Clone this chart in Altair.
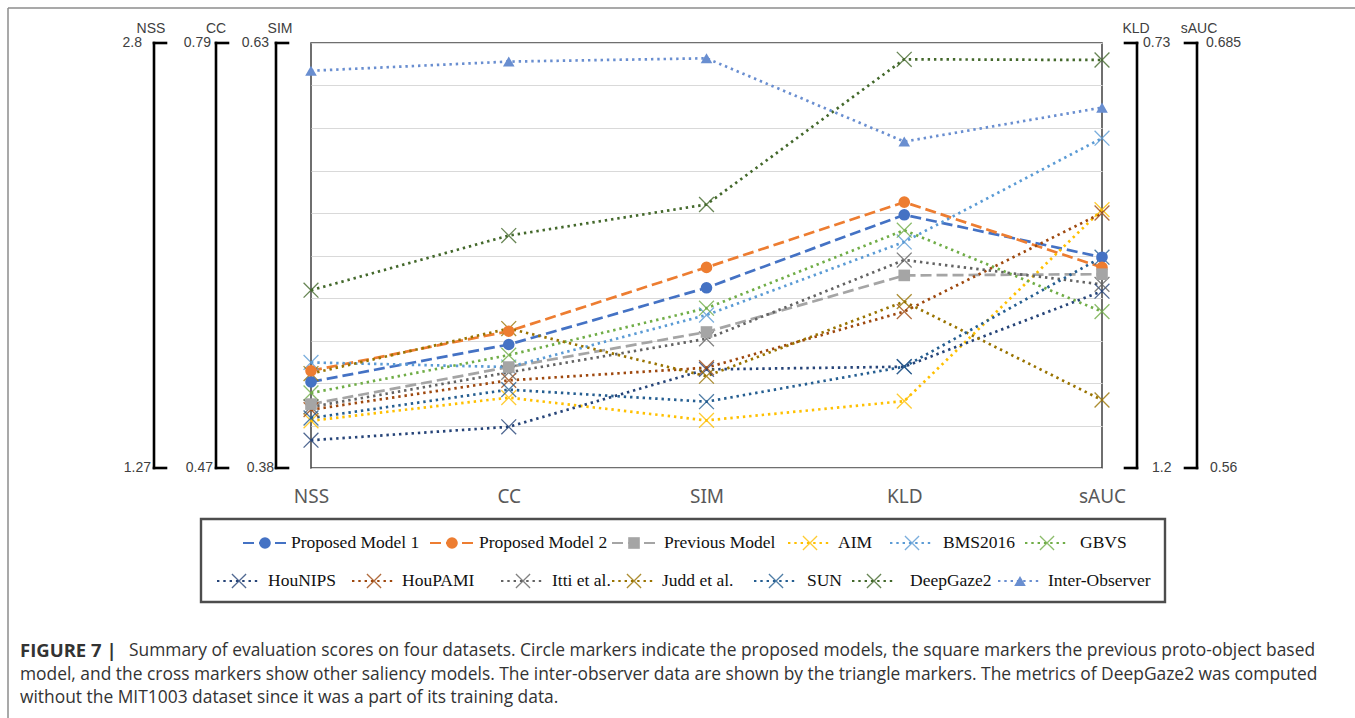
import altair as alt
import pandas as pd

# ---------------- data ----------------
METRICS = ["NSS", "CC", "SIM", "KLD", "sAUC"]
AXIS_TOP = [2.8, 0.79, 0.63, 0.73, 0.685]      # value at the top of each metric's own scale
AXIS_BOTTOM = [1.27, 0.47, 0.38, 1.2, 0.56]    # value at the bottom (KLD runs inverted)
AXIS_TOP_TEXT = ["2.8", "0.79", "0.63", "0.73", "0.685"]
AXIS_BOTTOM_TEXT = ["1.27", "0.47", "0.38", "1.2", "0.56"]

MODELS = ["Proposed Model 1", "Proposed Model 2", "Previous Model", "AIM", "BMS2016", "GBVS",
          "HouNIPS", "HouPAMI", "Itti et al.", "Judd et al.", "SUN", "DeepGaze2", "Inter-Observer"]

NSS_SCORES = [1.58, 1.62, 1.50, 1.44, 1.65, 1.54, 1.37, 1.48, 1.49, 1.61, 1.45, 1.91, 2.70]
CC_SCORES = [0.563, 0.573, 0.546, 0.523, 0.546, 0.555, 0.501, 0.536, 0.542, 0.575, 0.529, 0.645, 0.776]
SIM_SCORES = [0.486, 0.498, 0.460, 0.408, 0.470, 0.474, 0.438, 0.439, 0.456, 0.434, 0.419, 0.535, 0.621]
KLD_SCORES = [0.920, 0.906, 0.987, 1.126, 0.950, 0.937, 1.088, 1.027, 0.970, 1.016, 1.088, 0.748, 0.839]
SAUC_SCORES = [0.622, 0.619, 0.617, 0.636, 0.657, 0.606, 0.612, 0.635, 0.614, 0.580, 0.622, 0.680, 0.666]

CAPTION_BOLD = "FIGURE 7 |"
CAPTION_LINES = [
    "Summary of evaluation scores on four datasets. Circle markers indicate the proposed models, the square markers the previous proto-object based",
    "model, and the cross markers show other saliency models. The inter-observer data are shown by the triangle markers. The metrics of DeepGaze2 was computed",
    "without the MIT1003 dataset since it was a part of its training data.",
]

# ---------------- styles ----------------
COLORS = ["#4472C4", "#ED7D31", "#A5A5A5", "#FFC000", "#5B9BD5", "#70AD47",
          "#264478", "#9E480E", "#636363", "#997300", "#255E91", "#43682B", "#698ED0"]
DASHED, DOTTED = [11, 5], [2.4, 3.9]
DASHES = [DASHED, DASHED, DASHED] + [DOTTED] * 10
FILLED_MODELS = ["Proposed Model 1", "Proposed Model 2", "Previous Model", "Inter-Observer"]
FILLED_SHAPES = ["circle", "circle", "square", "triangle-up"]
FILLED_SIZES = [135, 135, 125, 60]
CROSS_MODELS = [m for m in MODELS if m not in FILLED_MODELS]
X_PATH = "M-1,-1L1,1M-1,1L1,-1"

# ---------------- layout (page pixels) ----------------
PAGE_W, PAGE_H = 1355, 718
X0, Y0 = 311, 43            # top-left corner of the plot frame
W, H = 791, 425             # plot frame size


def px(x):
    return x - X0


def py(y):
    return y - Y0


BRACKET_X = [154, 216, 276, 1137, 1197]
BRACKET_SIDE = ["left", "left", "left", "right", "right"]
TITLE_X = [151, 216, 280, 1136, 1199]
TOP_LABEL_X = [142, 211, 269, 1143, 1206]
BOTTOM_LABEL_X = [151, 213, 274, 1152, 1210]

LEGEND_ROW_Y = [543, 581]
LEGEND_ROW = [0, 0, 0, 0, 0, 0, 1, 1, 1, 1, 1, 1, 1]
LEGEND_MARK_X = [265, 452, 634, 810, 912, 1047, 239, 374, 523, 634, 776, 874, 1020]
LEGEND_TEXT_X = [291, 479, 664, 838, 943, 1080, 268, 402, 552, 662, 807, 910, 1048]

# ---------------- tables ----------------
scores = [NSS_SCORES, CC_SCORES, SIM_SCORES, KLD_SCORES, SAUC_SCORES]
rows = []
for i, model in enumerate(MODELS):
    for j, metric in enumerate(METRICS):
        v = scores[j][i]
        pos = (v - AXIS_BOTTOM[j]) / (AXIS_TOP[j] - AXIS_BOTTOM[j])
        rows.append({"model": model, "metric": metric, "order": j, "value": v, "pos": pos})
df = pd.DataFrame(rows)

legend_df = pd.DataFrame({
    "model": MODELS,
    "mx": [px(x) for x in LEGEND_MARK_X],
    "lx0": [px(x - 22) for x in LEGEND_MARK_X],
    "lx1": [px(x + 22) for x in LEGEND_MARK_X],
    "tx": [px(x) for x in LEGEND_TEXT_X],
    "ly": [py(LEGEND_ROW_Y[r]) for r in LEGEND_ROW],
})

seg = []
for k in range(len(METRICS)):
    bx = BRACKET_X[k]
    tick_end = bx + 12 if BRACKET_SIDE[k] == "left" else bx - 12
    seg.append({"x": px(bx), "x2": px(bx), "y": 0, "y2": H})
    seg.append({"x": px(bx), "x2": px(tick_end), "y": 0, "y2": 0})
    seg.append({"x": px(bx), "x2": px(tick_end), "y": H, "y2": H})
bracket_df = pd.DataFrame(seg)

titles_df = pd.DataFrame({"t": METRICS, "x": [px(x) for x in TITLE_X], "y": [py(29)] * 5})
left_lab = pd.DataFrame({
    "t": AXIS_TOP_TEXT[:3] + AXIS_BOTTOM_TEXT[:3],
    "x": [px(x) for x in TOP_LABEL_X[:3] + BOTTOM_LABEL_X[:3]],
    "y": [0] * 3 + [H] * 3,
})
right_lab = pd.DataFrame({
    "t": AXIS_TOP_TEXT[3:] + AXIS_BOTTOM_TEXT[3:],
    "x": [px(x) for x in TOP_LABEL_X[3:] + BOTTOM_LABEL_X[3:]],
    "y": [0] * 2 + [H] * 2,
})

frame_df = pd.DataFrame([
    {"x": px(8), "x2": px(PAGE_W + 5), "y": py(8), "y2": py(8)},
    {"x": px(8), "x2": px(8), "y": py(8), "y2": py(PAGE_H + 5)},
])
legend_box = pd.DataFrame([{"x": px(201), "x2": px(1165), "y": py(519), "y2": py(602)}])

caption_df = pd.DataFrame({
    "t": CAPTION_LINES,
    "x": [px(129), px(20), px(20)],
    "y": [py(651), py(675), py(698)],
})
caption_bold = pd.DataFrame({"t": [CAPTION_BOLD], "x": [px(20)], "y": [py(651)]})

# ---------------- shared encodings ----------------
color_scale = alt.Scale(domain=MODELS, range=COLORS)
dash_scale = alt.Scale(domain=MODELS, range=DASHES)

x_enc = alt.X(
    "metric:N", sort=METRICS,
    scale=alt.Scale(type="point", padding=0, domain=METRICS),
    axis=alt.Axis(title=None, domain=False, ticks=False, labelAngle=0, labelFont="Noto Sans",
                  labelFontSize=19, labelColor="#595959", labelPadding=19),
)
y_enc = alt.Y(
    "pos:Q", scale=alt.Scale(domain=[0, 1], nice=False, zero=False),
    axis=alt.Axis(values=[k / 10 for k in range(11)], grid=True, gridColor="#d9d9d9", gridWidth=1.2,
                  labels=False, ticks=False, domain=False, title=None),
)
color_enc = alt.Color("model:N", scale=color_scale, legend=None)
dash_enc = alt.StrokeDash("model:N", scale=dash_scale, legend=None)


def pix_x(field):
    return alt.X(f"{field}:Q", scale=None, axis=None)


def pix_y(field):
    return alt.Y(f"{field}:Q", scale=None, axis=None)


base = alt.Chart(df)

lines = base.mark_line(strokeWidth=2.7, strokeCap="butt").encode(
    x=x_enc, y=y_enc, color=color_enc, strokeDash=dash_enc, order=alt.Order("order:Q"),
)

crosses = base.transform_filter(
    alt.FieldOneOfPredicate(field="model", oneOf=CROSS_MODELS)
).mark_point(shape=X_PATH, filled=False, size=220, strokeWidth=1.3, opacity=0.8).encode(
    x=x_enc, y=y_enc, color=color_enc,
)

filled_shape = alt.Shape("model:N", scale=alt.Scale(domain=FILLED_MODELS, range=FILLED_SHAPES), legend=None)
filled_size = alt.Size("model:N", scale=alt.Scale(domain=FILLED_MODELS, range=FILLED_SIZES), legend=None)

filled = base.transform_filter(
    alt.FieldOneOfPredicate(field="model", oneOf=FILLED_MODELS)
).mark_point(filled=True, opacity=1, strokeWidth=0).encode(
    x=x_enc, y=y_enc, color=color_enc, shape=filled_shape, size=filled_size,
)

# ---------------- legend ----------------
leg = alt.Chart(legend_df)
leg_lines = leg.mark_rule(strokeWidth=2.0).encode(
    x=pix_x("lx0"), x2="lx1:Q", y=pix_y("ly"), color=color_enc, strokeDash=dash_enc,
)
leg_cross = leg.transform_filter(
    alt.FieldOneOfPredicate(field="model", oneOf=CROSS_MODELS)
).mark_point(shape=X_PATH, filled=False, size=200, strokeWidth=1.3, opacity=0.8).encode(
    x=pix_x("mx"), y=pix_y("ly"), color=color_enc,
)
leg_filled = leg.transform_filter(
    alt.FieldOneOfPredicate(field="model", oneOf=FILLED_MODELS)
).mark_point(filled=True, opacity=1, strokeWidth=0).encode(
    x=pix_x("mx"), y=pix_y("ly"), color=color_enc, shape=filled_shape, size=filled_size,
)
leg_text = leg.mark_text(align="left", baseline="middle", font="Liberation Serif", fontSize=17.5,
                         color="#111111").encode(x=pix_x("tx"), y=pix_y("ly"), text="model:N")
leg_box = alt.Chart(legend_box).mark_rect(filled=False, stroke="#4d4d4d", strokeWidth=2.4).encode(
    x=pix_x("x"), x2="x2:Q", y=pix_y("y"), y2="y2:Q",
)

# ---------------- metric brackets ----------------
brackets = alt.Chart(bracket_df).mark_rule(color="#000000", strokeWidth=2.6, strokeCap="square").encode(
    x=pix_x("x"), x2="x2:Q", y=pix_y("y"), y2="y2:Q",
)
axis_font = dict(font="Liberation Sans", fontSize=14, color="#404040", baseline="middle")
bracket_titles = alt.Chart(titles_df).mark_text(align="center", **axis_font).encode(
    x=pix_x("x"), y=pix_y("y"), text="t:N")
bracket_left = alt.Chart(left_lab).mark_text(align="right", **axis_font).encode(
    x=pix_x("x"), y=pix_y("y"), text="t:N")
bracket_right = alt.Chart(right_lab).mark_text(align="left", **axis_font).encode(
    x=pix_x("x"), y=pix_y("y"), text="t:N")

# ---------------- page frame and caption ----------------
frame = alt.Chart(frame_df).mark_rule(color="#8c8c8c", strokeWidth=1.5).encode(
    x=pix_x("x"), x2="x2:Q", y=pix_y("y"), y2="y2:Q",
)
cap_font = dict(font="Open Sans", color="#333333", baseline="middle", align="left")
caption = alt.Chart(caption_df).mark_text(fontSize=17.4, **cap_font).encode(
    x=pix_x("x"), y=pix_y("y"), text="t:N")
caption_b = alt.Chart(caption_bold).mark_text(fontWeight="bold", fontSize=18.5, **cap_font).encode(
    x=pix_x("x"), y=pix_y("y"), text="t:N")

chart = alt.layer(
    lines, crosses, filled,
    leg_box, leg_lines, leg_cross, leg_filled, leg_text,
    brackets, bracket_titles, bracket_left, bracket_right,
    frame, caption, caption_b,
).properties(
    width=W, height=H,
    padding={"left": X0, "top": Y0, "right": PAGE_W - X0 - W, "bottom": PAGE_H - Y0 - H},
    autosize=alt.AutoSizeParams(type="none"),
    background="white",
).configure_view(stroke="#404040", strokeWidth=1.5)

chart.save("out.html", embed_options={"renderer": "svg", "actions": False})
